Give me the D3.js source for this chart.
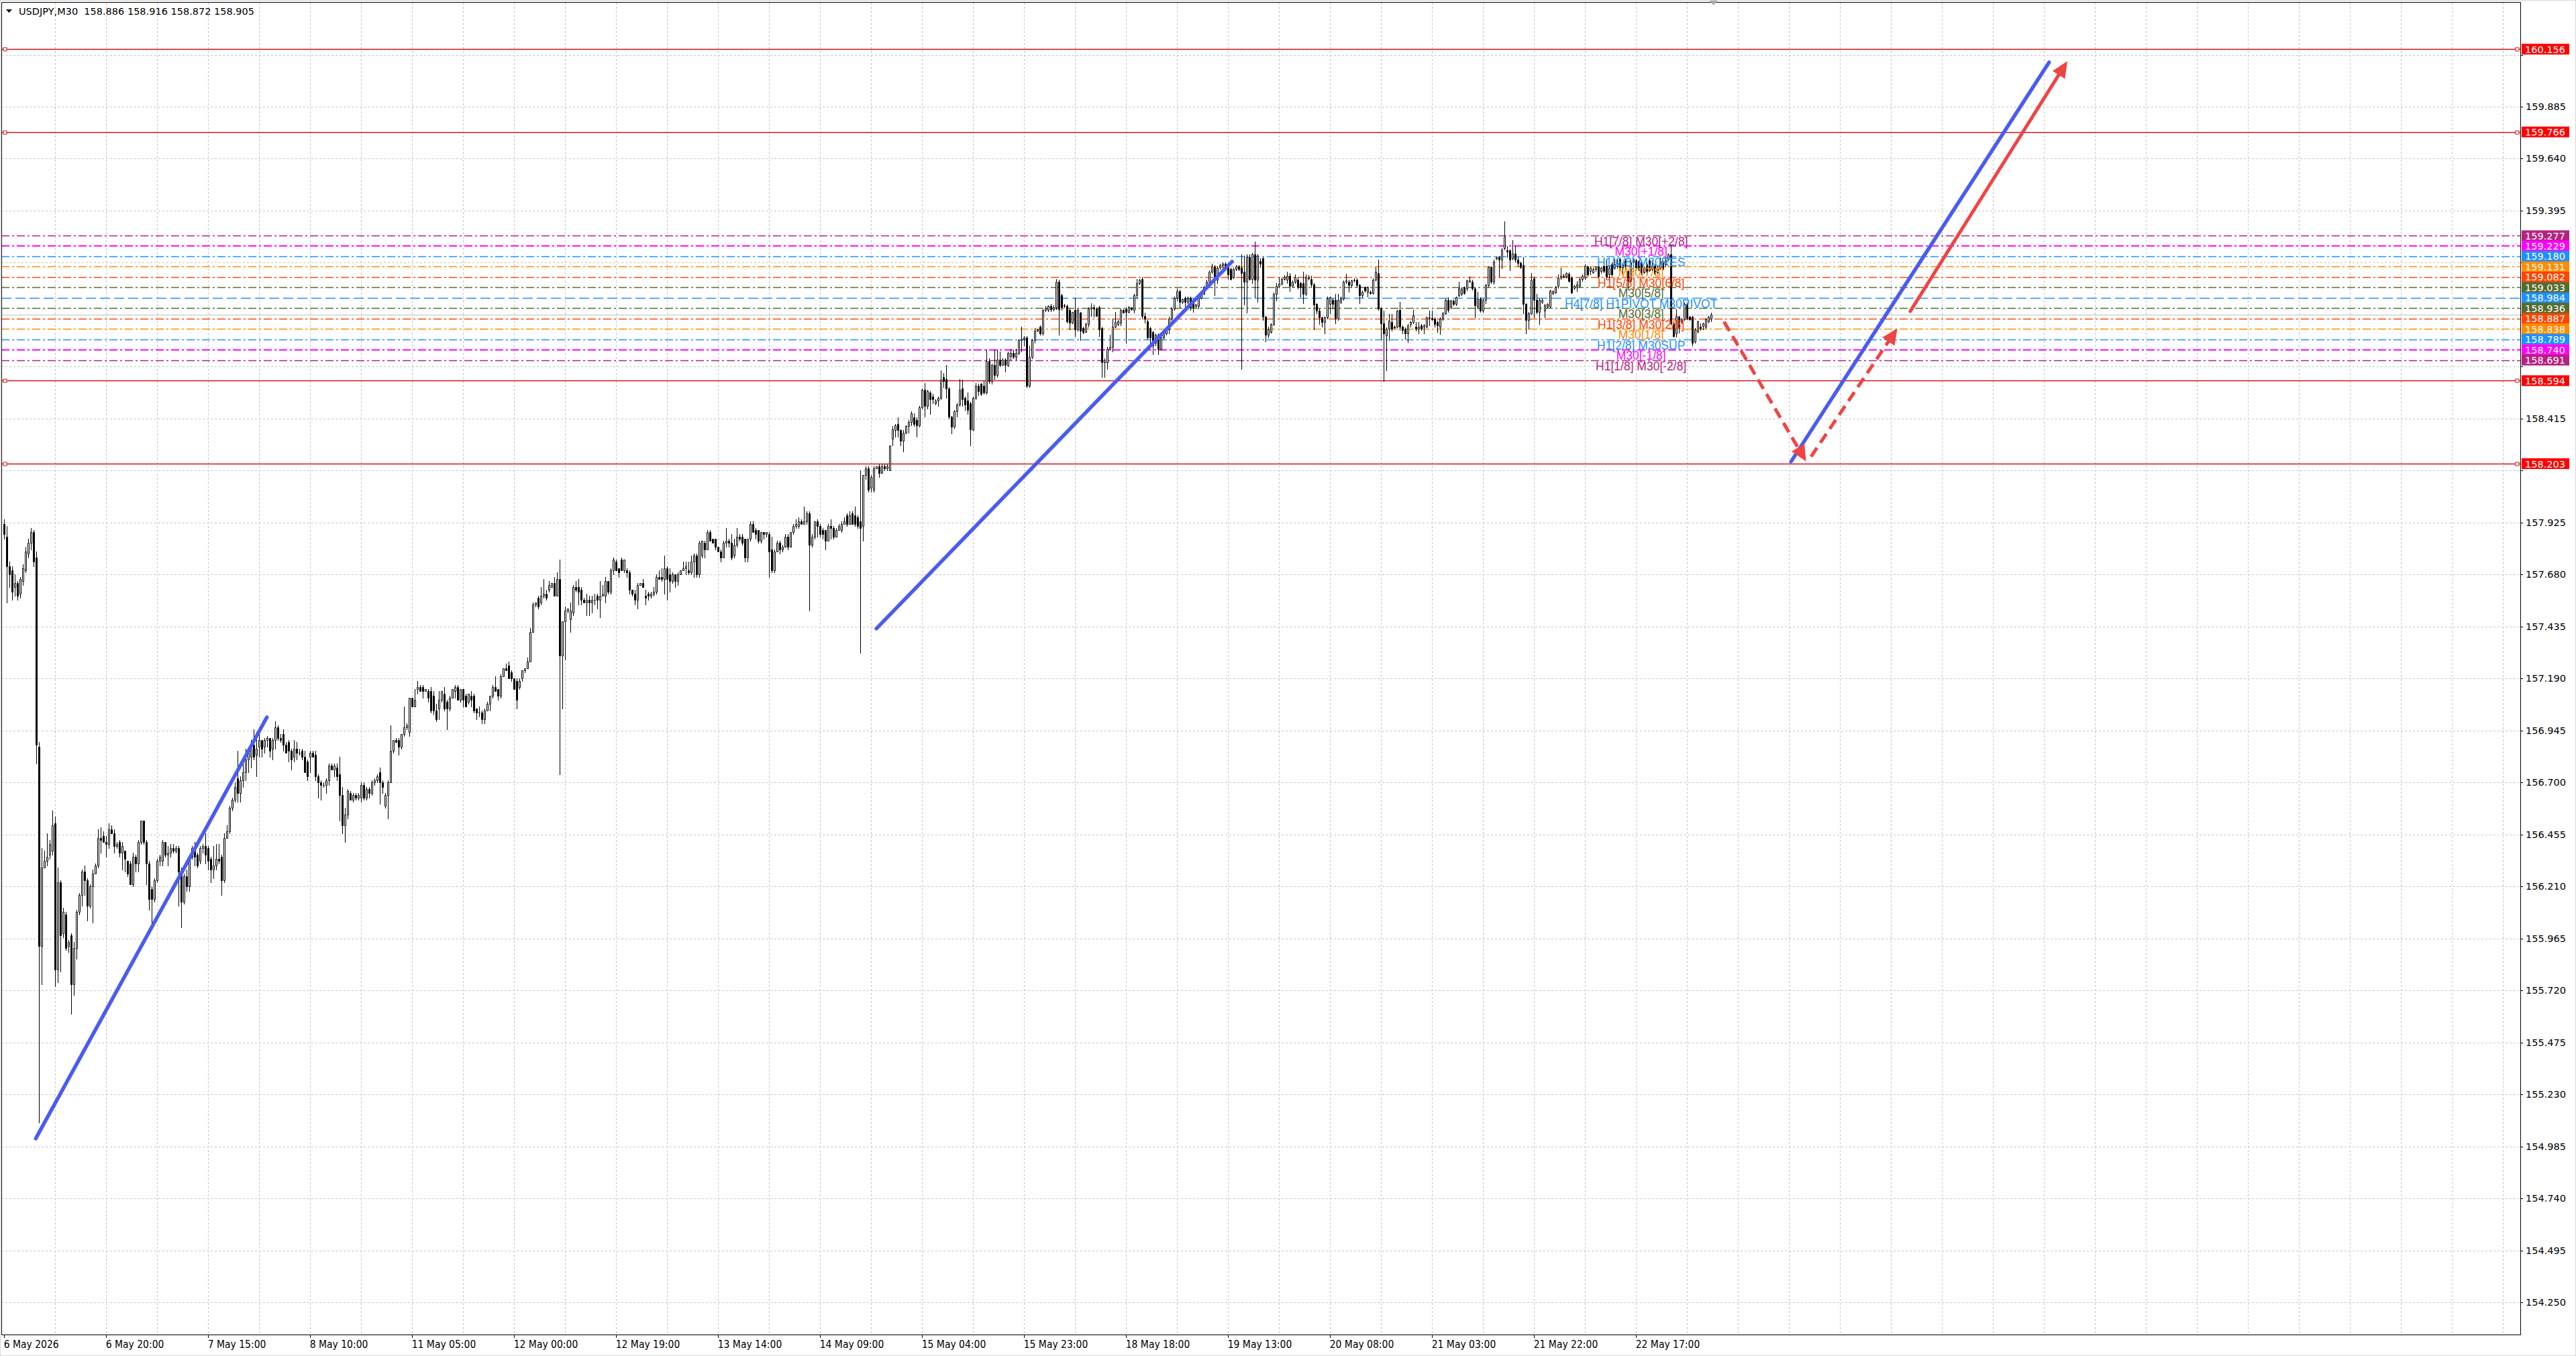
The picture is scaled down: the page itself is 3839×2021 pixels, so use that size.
<!DOCTYPE html>
<html>
<head>
<meta charset="utf-8">
<script src="https://cdn.jsdelivr.net/npm/d3@7"></script>
<style>
  body { margin: 0; background: #fff; overflow: hidden; }
</style>
</head>
<body>
<svg id="chart"></svg>
<script>
// USDJPY M30 - candles and drawn objects

var symbolTitle = 'USDJPY,M30';
var lastQuote = [158.886, 158.916, 158.872, 158.905];

// time axis labels, one every 38 bars
var timeLabels = ['6 May 2026', '6 May 20:00', '7 May 15:00', '8 May 10:00', '11 May 05:00', '12 May 00:00',
  '12 May 19:00', '13 May 14:00', '14 May 09:00', '15 May 04:00', '15 May 23:00', '18 May 18:00',
  '19 May 13:00', '20 May 08:00', '21 May 03:00', '21 May 22:00', '22 May 17:00'];

// price axis labels
var priceTicks = [160.130, 159.885, 159.640, 159.395, 159.150, 158.905, 158.660, 158.415, 158.170,
  157.925, 157.680, 157.435, 157.190, 156.945, 156.700, 156.455, 156.210, 155.965, 155.720,
  155.475, 155.230, 154.985, 154.740, 154.495, 154.250];

// horizontal support / resistance lines
var redLevels = [160.156, 159.766, 158.594, 158.203];

// murrey math levels and their names
var murreyLevels = [159.277, 159.229, 159.180, 159.131, 159.082, 159.033, 158.984, 158.936, 158.887, 158.838, 158.789, 158.740, 158.691];
var murreyNames = ['H1[7/8] M30[+2/8]', 'M30[+1/8]', 'H1[6/8] M30RES', 'M30[7/8]', 'H1[5/8] M30[6/8]', 'M30[5/8]',
  'H4[7/8] H1PIVOT M30PIVOT', 'M30[3/8]', 'H1[3/8] M30[2/8]', 'M30[1/8]', 'H1[2/8] M30SUP', 'M30[-1/8]', 'H1[1/8] M30[-2/8]'];

// candles [open, high, low, close]
// 6 May 01:00 .. 11 May 09:30
var bars1 = [
[157.92,157.94,157.85,157.87],[157.86,157.91,157.55,157.72],[157.72,157.74,157.62,157.68],[157.70,157.72,157.56,157.60],
[157.62,157.68,157.58,157.64],[157.64,157.65,157.56,157.58],[157.59,157.67,157.57,157.66],[157.65,157.73,157.63,157.71],
[157.70,157.81,157.69,157.79],[157.78,157.85,157.76,157.83],[157.83,157.90,157.80,157.88],[157.88,157.89,157.72,157.74],
[157.76,157.79,156.79,156.88],[156.87,156.89,155.10,155.93],[155.93,156.39,155.75,156.30],[156.30,156.38,156.30,156.33],
[156.33,156.46,156.31,156.35],[156.36,156.43,156.34,156.41],[156.38,156.57,156.36,156.50],[156.51,156.54,155.74,155.82],
[155.82,156.30,155.76,156.23],[156.23,156.24,155.81,155.98],[155.99,156.11,155.97,156.09],[156.08,156.09,155.91,155.92],
[155.93,155.96,155.90,155.95],[155.98,155.99,155.61,155.75],[155.75,155.95,155.70,155.92],[155.92,156.10,155.87,156.09],
[156.09,156.18,156.08,156.17],[156.17,156.29,156.12,156.28],[156.28,156.31,156.17,156.24],[156.24,156.25,156.05,156.12],
[156.12,156.22,156.11,156.21],[156.21,156.29,156.04,156.27],[156.27,156.32,156.27,156.31],[156.31,156.48,156.30,156.44],
[156.44,156.49,156.37,156.43],[156.45,156.47,156.42,156.42],[156.42,156.45,156.35,156.41],[156.41,156.51,156.39,156.48],
[156.48,156.50,156.46,156.46],[156.46,156.48,156.37,156.40],[156.40,156.42,156.39,156.41],[156.42,156.43,156.35,156.37],
[156.37,156.42,156.29,156.40],[156.38,156.38,156.28,156.34],[156.33,156.33,156.26,156.27],[156.32,156.33,156.22,156.22],
[156.22,156.37,156.21,156.35],[156.35,156.36,156.28,156.32],[156.32,156.43,156.28,156.42],[156.42,156.52,156.41,156.52],
[156.52,156.52,156.41,156.42],[156.42,156.43,156.22,156.32],[156.32,156.33,156.10,156.15],[156.20,156.21,156.04,156.15],
[156.15,156.25,156.14,156.24],[156.24,156.34,156.23,156.33],[156.33,156.36,156.31,156.35],[156.33,156.43,156.31,156.42],
[156.42,156.42,156.35,156.36],[156.36,156.40,156.31,156.37],[156.37,156.41,156.35,156.39],[156.39,156.41,156.37,156.38],
[156.38,156.40,156.37,156.39],[156.39,156.40,156.12,156.28],[156.28,156.30,156.02,156.14],[156.14,156.27,156.13,156.26],
[156.26,156.29,156.19,156.21],[156.21,156.36,156.19,156.35],[156.35,156.40,156.34,156.39],[156.39,156.42,156.31,156.35],
[156.36,156.37,156.30,156.31],[156.33,156.40,156.32,156.39],[156.39,156.41,156.37,156.40],[156.40,156.46,156.32,156.36],
[156.39,156.40,156.29,156.33],[156.34,156.35,156.23,156.29],[156.29,156.40,156.25,156.31],[156.31,156.41,156.29,156.34],
[156.34,156.41,156.32,156.33],[156.35,156.36,156.17,156.24],[156.24,156.46,156.23,156.44],[156.44,156.50,156.44,156.47],
[156.47,156.59,156.46,156.58],[156.58,156.63,156.57,156.62],[156.62,156.70,156.61,156.68],[156.72,156.85,156.61,156.65],
[156.65,156.73,156.61,156.71],[156.71,156.79,156.68,156.75],[156.75,156.86,156.71,156.81],[156.81,156.86,156.75,156.84],
[156.82,156.90,156.77,156.86],[156.88,156.95,156.81,156.82],[156.83,156.94,156.73,156.86],[156.87,156.96,156.82,156.90],
[156.90,156.90,156.82,156.86],[156.87,156.91,156.84,156.90],[156.90,156.92,156.87,156.91],[156.91,156.91,156.82,156.85],
[156.86,156.91,156.81,156.90],[156.90,156.99,156.86,156.96],[156.96,156.97,156.90,156.91],[156.91,156.93,156.89,156.90],
[156.93,156.95,156.85,156.88],[156.88,156.89,156.84,156.84],[156.89,156.90,156.80,156.85],[156.85,156.86,156.76,156.81],
[156.82,156.90,156.80,156.86],[156.86,156.89,156.81,156.84],[156.84,156.86,156.83,156.84],[156.85,156.86,156.81,156.82],
[156.82,156.85,156.75,156.75],[156.80,156.81,156.71,156.73],[156.82,156.85,156.75,156.84],[156.84,156.85,156.82,156.82],
[156.83,156.85,156.71,156.73],[156.73,156.74,156.63,156.70],[156.70,156.71,156.62,156.69],[156.69,156.70,156.68,156.69],
[156.69,156.72,156.65,156.71],[156.71,156.79,156.69,156.78],[156.78,156.79,156.76,156.76],[156.76,156.79,156.73,156.78],
[156.77,156.79,156.71,156.73],[156.74,156.82,156.52,156.64],[156.64,156.68,156.46,156.50],[156.50,156.58,156.42,156.55],
[156.55,156.67,156.53,156.66],[156.65,156.66,156.62,156.62],[156.62,156.65,156.61,156.64],[156.64,156.65,156.62,156.63],
[156.63,156.65,156.62,156.64],[156.63,156.70,156.61,156.69],[156.69,156.70,156.62,156.63],[156.63,156.68,156.62,156.67],
[156.67,156.68,156.63,156.65],[156.65,156.71,156.64,156.70],[156.70,156.72,156.69,156.71],[156.71,156.74,156.70,156.73],
[156.75,156.77,156.60,156.70],[156.70,156.71,156.65,156.68],[156.59,156.65,156.58,156.64],[156.64,156.71,156.53,156.70],
[156.70,156.97,156.70,156.85],[156.85,156.90,156.84,156.90],[156.90,156.91,156.89,156.89],[156.90,156.91,156.83,156.87],
[156.87,156.93,156.86,156.93],[156.93,157.06,156.92,156.96],[156.96,156.98,156.95,156.97],[156.94,157.10,156.92,157.10],
[157.10,157.10,157.06,157.06],[157.06,157.14,157.06,157.09],[157.14,157.18,157.12,157.15],[157.15,157.16,157.13,157.13],
[157.15,157.16,157.10,157.13],[157.13,157.14,157.13,157.14],[157.13,157.14,157.08,157.10],[157.13,157.15,157.03,157.04],
[157.11,157.13,157.02,157.04],[157.04,157.07,156.99,157.00],[157.05,157.13,157.00,157.09],[157.09,157.13,157.08,157.13]
];

// 11 May 10:00 .. 14 May 10:00
var bars2 = [
[157.12,157.15,157.04,157.05],[157.08,157.09,156.95,157.05],[157.05,157.11,157.04,157.10],[157.10,157.14,157.10,157.14],
[157.13,157.16,157.10,157.15],[157.15,157.16,157.09,157.09],[157.09,157.14,157.08,157.14],[157.14,157.14,157.06,157.09],
[157.11,157.12,157.06,157.06],[157.08,157.12,157.07,157.12],[157.11,157.13,157.06,157.09],[157.11,157.12,157.03,157.04],
[157.05,157.05,157.00,157.03],[157.03,157.06,157.01,157.03],[157.03,157.04,156.98,157.00],[157.00,157.05,156.98,157.04],
[157.04,157.08,157.04,157.07],[157.07,157.11,157.04,157.11],[157.11,157.16,157.10,157.15],[157.15,157.20,157.13,157.13],
[157.14,157.14,157.09,157.11],[157.11,157.21,157.10,157.20],[157.20,157.24,157.20,157.24],[157.24,157.26,157.23,157.23],
[157.25,157.27,157.19,157.19],[157.22,157.23,157.18,157.19],[157.19,157.19,157.14,157.14],[157.18,157.19,157.05,157.09],
[157.15,157.19,157.14,157.18],[157.19,157.23,157.18,157.23],[157.23,157.24,157.22,157.24],[157.24,157.29,157.24,157.27],
[157.27,157.43,157.27,157.41],[157.41,157.55,157.41,157.54],[157.54,157.55,157.53,157.55],[157.57,157.58,157.52,157.53],
[157.55,157.62,157.54,157.58],[157.58,157.66,157.57,157.59],[157.59,157.61,157.56,157.57],[157.61,157.65,157.60,157.63],
[157.62,157.64,157.62,157.64],[157.64,157.67,157.58,157.58],[157.58,157.69,157.58,157.66],[157.66,157.75,156.74,157.30],
[157.30,157.46,157.05,157.46],[157.46,157.53,157.28,157.51],[157.51,157.52,157.50,157.52],[157.47,157.55,157.41,157.51],
[157.50,157.63,157.49,157.62],[157.62,157.65,157.60,157.61],[157.62,157.66,157.54,157.60],[157.61,157.62,157.54,157.56],
[157.56,157.57,157.55,157.55],[157.55,157.59,157.49,157.56],[157.56,157.58,157.49,157.55],[157.55,157.58,157.50,157.56],
[157.56,157.59,157.54,157.56],[157.58,157.59,157.52,157.56],[157.56,157.65,157.48,157.58],[157.58,157.63,157.58,157.59],
[157.58,157.67,157.55,157.65],[157.65,157.65,157.59,157.60],[157.60,157.71,157.59,157.70],[157.70,157.76,157.68,157.75],
[157.74,157.75,157.70,157.70],[157.71,157.71,157.67,157.69],[157.75,157.76,157.70,157.70],[157.70,157.75,157.69,157.75],
[157.70,157.71,157.67,157.69],[157.69,157.70,157.59,157.61],[157.61,157.61,157.58,157.59],[157.59,157.61,157.54,157.56],
[157.56,157.64,157.52,157.63],[157.63,157.64,157.63,157.64],[157.64,157.66,157.62,157.62],[157.58,157.61,157.54,157.57],
[157.59,157.60,157.56,157.58],[157.58,157.60,157.57,157.59],[157.59,157.62,157.58,157.60],[157.60,157.68,157.59,157.67],
[157.67,157.70,157.66,157.66],[157.67,157.71,157.65,157.66],[157.66,157.77,157.59,157.71],[157.71,157.72,157.56,157.66],
[157.68,157.71,157.60,157.65],[157.65,157.69,157.64,157.68],[157.68,157.68,157.62,157.65],[157.65,157.69,157.63,157.68],
[157.68,157.70,157.68,157.70],[157.70,157.74,157.70,157.71],[157.71,157.74,157.68,157.72],[157.70,157.74,157.68,157.69],
[157.69,157.77,157.68,157.74],[157.74,157.78,157.67,157.77],[157.77,157.78,157.67,157.68],[157.68,157.84,157.67,157.83],
[157.77,157.84,157.76,157.84],[157.83,157.84,157.76,157.80],[157.80,157.89,157.80,157.88],[157.88,157.89,157.84,157.84],
[157.85,157.85,157.83,157.83],[157.85,157.85,157.80,157.81],[157.81,157.81,157.79,157.79],[157.79,157.80,157.74,157.76],
[157.76,157.84,157.76,157.83],[157.83,157.90,157.81,157.84],[157.84,157.85,157.81,157.83],[157.83,157.87,157.75,157.76],
[157.77,157.85,157.76,157.82],[157.82,157.90,157.81,157.86],[157.86,157.87,157.84,157.85],[157.86,157.87,157.82,157.83],
[157.85,157.85,157.74,157.76],[157.76,157.85,157.74,157.85],[157.85,157.93,157.84,157.92],[157.92,157.93,157.88,157.88],
[157.89,157.90,157.85,157.87],[157.89,157.89,157.83,157.84],[157.84,157.88,157.83,157.88],[157.88,157.88,157.85,157.87],
[157.87,157.88,157.86,157.88],[157.87,157.88,157.67,157.79],[157.80,157.86,157.69,157.70],[157.70,157.80,157.69,157.79],
[157.79,157.84,157.79,157.83],[157.83,157.84,157.78,157.80],[157.80,157.82,157.79,157.81],[157.81,157.87,157.81,157.86],
[157.86,157.87,157.80,157.81],[157.81,157.88,157.81,157.88],[157.88,157.92,157.87,157.91],[157.91,157.94,157.90,157.92],
[157.91,157.95,157.90,157.93],[157.93,157.94,157.92,157.92],[157.92,158.00,157.92,157.93],[157.93,157.98,157.92,157.97],
[157.97,157.98,157.51,157.82],[157.82,157.87,157.81,157.86],[157.86,157.93,157.85,157.93],[157.93,157.94,157.86,157.91],
[157.91,157.92,157.86,157.87],[157.89,157.90,157.85,157.87],[157.89,157.89,157.80,157.84],[157.84,157.92,157.84,157.91],
[157.91,157.94,157.85,157.90],[157.90,157.91,157.85,157.86],[157.86,157.90,157.86,157.89],[157.89,157.92,157.89,157.91],
[157.89,157.93,157.88,157.92],[157.92,157.95,157.92,157.93],[157.96,157.97,157.91,157.92],[157.92,157.98,157.92,157.96],
[157.97,157.98,157.92,157.92],[157.96,158.00,157.91,157.92],[157.95,157.96,157.90,157.91],[157.93,158.17,157.31,157.90],
[157.91,158.15,157.84,158.15],[158.15,158.19,158.13,158.18],[158.18,158.19,158.07,158.08],[158.09,158.15,158.07,158.14],
[158.08,158.19,158.07,158.18],[158.18,158.19,158.18,158.19],[158.19,158.20,158.14,158.16],[158.16,158.20,158.16,158.19],
[158.19,158.20,158.17,158.18]
];

// 14 May 10:30 .. 19 May 12:30
var bars3 = [
[158.18,158.20,158.17,158.19],[158.17,158.29,158.17,158.29],[158.32,158.38,158.29,158.365],[158.36,158.39,158.33,158.384],
[158.39,158.42,158.33,158.36],[158.36,158.365,158.29,158.31],[158.31,158.36,158.26,158.35],[158.35,158.384,158.345,158.38],
[158.38,158.41,158.35,158.40],[158.40,158.45,158.384,158.44],[158.42,158.44,158.38,158.39],[158.41,158.42,158.33,158.384],
[158.384,158.474,158.378,158.468],[158.468,158.558,158.461,158.552],[158.552,158.584,158.423,158.474],[158.474,158.552,158.461,158.545],
[158.539,158.545,158.436,158.507],[158.52,158.532,158.487,158.507],[158.487,158.507,158.481,158.50],[158.50,158.52,158.474,158.513],
[158.513,158.642,158.507,158.597],[158.61,158.629,158.565,158.591],[158.603,158.668,158.513,158.558],[158.558,158.565,158.416,158.423],
[158.423,158.429,158.345,158.378],[158.378,158.455,158.371,158.449],[158.449,158.487,158.423,158.481],[158.481,158.603,158.474,158.552],
[158.558,158.597,158.474,158.507],[158.513,158.52,158.455,158.481],[158.50,158.539,158.436,158.455],[158.487,158.494,158.287,158.365],
[158.365,158.52,158.358,158.513],[158.513,158.584,158.507,158.571],[158.571,158.578,158.526,158.545],[158.578,158.584,158.526,158.532],
[158.571,158.591,158.532,158.539],[158.539,158.739,158.532,158.687],[158.687,158.70,158.584,158.591],[158.591,158.674,158.578,158.668],
[158.668,158.739,158.60,158.62],[158.62,158.739,158.61,158.694],[158.694,158.732,158.661,158.668],[158.668,158.70,158.668,158.694],
[158.694,158.70,158.636,158.668],[158.668,158.732,158.661,158.726],[158.71,158.745,158.694,158.726],[158.726,158.739,158.70,158.707],
[158.707,158.745,158.694,158.726],[158.726,158.79,158.719,158.784],[158.784,158.849,158.732,158.79],[158.79,158.803,158.758,158.797],
[158.797,158.803,158.565,158.571],[158.571,158.758,158.565,158.707],[158.707,158.79,158.70,158.784],[158.784,158.842,158.771,158.829],
[158.829,158.84,158.825,158.836],[158.849,158.855,158.81,158.816],[158.816,158.93,158.81,158.926],[158.926,158.945,158.92,158.935],
[158.926,158.95,158.92,158.945],[158.945,158.955,158.92,158.93],[158.93,158.95,158.925,158.94],[158.94,159.074,158.93,159.06],
[159.06,159.07,158.81,158.93],[158.997,159.003,158.926,158.939],[158.945,158.955,158.94,158.95],[158.945,158.952,158.868,158.874],
[158.926,158.932,158.836,158.868],[158.868,158.919,158.865,158.919],[158.926,158.984,158.803,158.836],[158.836,158.932,158.829,158.926],
[158.913,158.919,158.784,158.829],[158.842,158.849,158.816,158.823],[158.823,158.868,158.823,158.861],[158.861,158.939,158.849,158.932],
[158.932,158.958,158.90,158.939],[158.939,158.952,158.894,158.932],[158.932,158.94,158.90,158.90],[158.939,158.945,158.803,158.836],
[158.842,158.849,158.61,158.681],[158.681,158.70,158.61,158.69],[158.681,158.752,158.649,158.745],[158.745,158.81,158.739,158.752],
[158.752,158.887,158.732,158.849],[158.849,158.919,158.845,158.87],[158.861,158.88,158.855,158.874],[158.868,158.932,158.855,158.926],
[158.926,158.93,158.913,158.915],[158.932,158.939,158.771,158.919],[158.919,158.945,158.913,158.939],[158.939,158.94,158.926,158.93],
[158.926,159.003,158.913,158.997],[158.997,159.074,158.984,159.055],[159.055,159.074,159.048,159.068],[159.074,159.081,158.887,158.90],
[158.90,158.913,158.868,158.887],[158.874,158.881,158.79,158.797],[158.842,158.849,158.771,158.797],[158.823,158.829,158.719,158.758],
[158.771,158.816,158.758,158.81],[158.81,158.816,158.719,158.745],[158.745,158.803,158.739,158.797],[158.797,158.82,158.79,158.816],
[158.816,158.845,158.81,158.842],[158.836,158.894,158.816,158.887],[158.887,158.939,158.881,158.932],[158.932,158.99,158.926,158.984],
[158.984,159.029,158.971,159.016],[159.016,159.023,158.939,158.965],[158.965,158.98,158.96,158.977],[158.984,158.99,158.926,158.965],
[158.965,158.99,158.96,158.984],[158.984,158.99,158.926,158.939],[158.958,158.965,158.919,158.939],[158.945,158.955,158.94,158.952],
[158.945,158.99,158.932,158.984],[158.984,159.01,158.98,159.003],[159.003,159.04,159.00,159.036],[159.036,159.068,159.029,159.061],
[159.061,159.113,159.055,159.107],[159.107,159.145,159.10,159.132],[159.132,159.139,158.997,159.068],[159.068,159.132,159.055,159.126],
[159.126,159.145,159.12,159.139],[159.139,159.152,159.126,159.145],[159.145,159.15,159.13,159.132],[159.132,159.139,159.074,159.094],
[159.119,159.126,159.068,159.074],[159.081,159.125,159.075,159.119],[159.119,159.14,159.115,159.132],[159.132,159.14,159.115,159.119],
[159.126,159.19,158.649,159.10],[159.107,159.184,158.952,159.061],[159.061,159.19,158.913,159.178],[159.178,159.19,159.07,159.074],
[159.074,159.197,159.055,159.19],[159.19,159.248,158.984,159.068],[159.068,159.19,158.965,159.184],[159.158,159.17,159.13,159.145],
[159.171,159.178,158.881,158.894],[158.894,158.90,158.778,158.81],[158.81,158.849,158.797,158.836],[158.823,158.865,158.82,158.861],
[158.861,159.01,158.855,159.003],[159.003,159.055,158.971,159.042],[159.042,159.081,159.036,159.05],[159.05,159.08,159.048,159.074],
[159.074,159.09,159.07,159.081],[159.068,159.107,159.055,159.087],[159.087,159.10,159.016,159.042],[159.042,159.065,159.035,159.061],
[159.061,159.094,159.055,159.081],[159.068,159.081,159.029,159.036],[159.055,159.061,158.99,159.036],[159.055,159.107,158.958,159.003],
[159.003,159.094,158.997,159.081],[159.075,159.09,159.07,159.081],[159.074,159.087,159.036,159.048],[159.048,159.055,158.836,158.952]
];

// 19 May 13:00 .. end
var bars4 = [
[158.954,158.960,158.912,158.923],[158.923,158.933,158.860,158.891],[158.891,158.896,158.849,158.870],[158.870,158.896,158.817,158.891],
[158.891,158.991,158.886,158.981],[158.954,158.991,158.912,158.986],[158.976,158.981,158.933,158.954],[158.976,159.002,158.865,158.886],
[158.886,159.002,158.881,158.976],[158.965,158.991,158.960,158.981],[158.981,159.065,158.976,159.060],[159.060,159.097,159.055,159.065],
[159.060,159.070,159.012,159.044],[159.044,159.070,159.039,159.065],[159.065,159.076,159.060,159.070],[159.068,159.076,159.033,159.044],
[159.044,159.049,158.960,158.997],[158.997,159.018,158.986,159.012],[159.033,159.039,159.012,159.018],[159.012,159.039,158.991,159.033],
[159.012,159.020,159.002,159.007],[159.007,159.076,159.002,159.070],[159.070,159.128,159.065,159.107],[159.102,159.165,158.928,158.933],
[158.933,158.939,158.791,158.865],[158.865,158.923,158.591,158.817],[158.807,158.844,158.644,158.838],[158.838,158.907,158.786,158.875],
[158.870,158.907,158.828,158.838],[158.849,158.855,158.840,158.844],[158.849,158.928,158.844,158.923],[158.928,158.965,158.833,158.849],
[158.849,158.854,158.817,158.833],[158.838,158.844,158.791,158.817],[158.817,158.860,158.775,158.854],[158.860,158.875,158.849,158.870],
[158.870,158.928,158.865,158.902],[158.849,158.870,158.828,158.838],[158.838,158.870,158.817,158.849],[158.854,158.860,158.833,158.838],
[158.849,158.860,158.817,158.854],[158.849,158.896,158.844,158.891],[158.889,158.923,158.854,158.891],[158.889,158.923,158.881,158.883],
[158.886,158.891,158.849,158.860],[158.870,158.875,158.823,158.854],[158.849,158.891,158.812,158.886],[158.886,158.918,158.881,158.912],
[158.912,158.981,158.907,158.976],[158.976,158.986,158.918,158.928],[158.939,158.976,158.933,158.970],[158.970,158.976,158.949,158.954],
[158.954,158.991,158.949,158.986],[158.997,159.060,158.991,159.028],[159.002,159.033,158.997,159.028],[159.033,159.039,159.002,159.007],
[159.028,159.070,159.018,159.065],[159.060,159.086,159.060,159.065],[159.060,159.070,159.023,159.028],[159.028,159.033,158.891,158.949],
[158.944,159.012,158.933,158.981],[158.981,158.986,158.918,158.923],[158.923,158.981,158.918,158.976],[158.976,159.049,158.960,159.044],
[159.044,159.134,159.039,159.128],[159.128,159.134,159.055,159.060],[159.060,159.165,159.049,159.155],[159.170,159.181,159.165,159.176],
[159.176,159.181,159.086,159.165],[159.165,159.218,159.123,159.213],[159.218,159.344,159.213,159.271],[159.207,159.228,159.176,159.202],
[159.207,159.213,159.113,159.165],[159.170,159.255,159.165,159.192],[159.192,159.228,159.155,159.165],[159.165,159.176,159.134,159.149],
[159.149,159.155,159.123,159.128],[159.139,159.176,158.912,158.954],[158.954,158.960,158.817,158.881],[158.881,158.918,158.838,158.912],
[158.912,159.102,158.907,159.070],[159.076,159.086,158.891,158.976],[158.976,159.002,158.912,158.918],[158.918,158.981,158.860,158.976],
[158.965,158.981,158.960,158.976],[158.923,158.954,158.891,158.949],[158.944,158.960,158.939,158.954],[158.944,159.023,158.939,159.018],
[159.005,159.020,159.000,159.015],[159.010,159.040,159.005,159.036],[159.041,159.094,159.031,159.078],[159.078,159.126,159.073,159.089],
[159.089,159.099,159.080,159.084],[159.084,159.105,159.080,159.100],[159.099,159.105,159.060,159.063],[159.078,159.084,159.005,159.010],
[159.031,159.045,159.025,159.041],[159.041,159.063,159.015,159.047],[159.041,159.078,159.036,159.073],[159.073,159.094,159.063,159.089],
[159.078,159.141,159.073,159.136],[159.131,159.136,159.089,159.094],[159.110,159.131,159.094,159.126],[159.105,159.125,159.100,159.120],
[159.120,159.131,159.110,159.131],[159.131,159.136,159.078,159.084],[159.110,159.130,159.100,159.126],[159.136,159.147,159.105,159.110],
[159.136,159.168,159.073,159.084],[159.094,159.136,159.063,159.126],[159.141,159.152,159.089,159.094],[159.126,159.168,159.120,159.141],
[159.131,159.168,159.126,159.147],[159.168,159.173,159.115,159.120],[159.126,159.152,159.094,159.141],[159.157,159.168,159.115,159.136],
[159.110,159.115,159.026,159.063],[159.063,159.160,159.060,159.152],[159.152,159.173,159.110,159.168],[159.162,159.168,159.115,159.126],
[159.157,159.160,159.115,159.120],[159.152,159.162,159.094,159.105],[159.105,159.130,159.100,159.126],[159.141,159.152,159.099,159.110],
[159.162,159.168,159.110,159.115],[159.120,159.162,159.115,159.136],[159.136,159.141,159.094,159.099],[159.105,159.136,159.099,159.126],
[159.126,159.173,159.120,159.157],[159.152,159.160,159.118,159.120],[159.141,159.178,159.131,159.162],[159.168,159.194,159.162,159.189],
[159.189,159.231,158.857,158.863],[158.863,158.873,158.800,158.805],[158.815,158.931,158.800,158.899],[158.894,158.899,158.821,158.842],
[158.873,158.890,158.865,158.884],[158.884,158.963,158.880,158.952],[158.957,158.963,158.884,158.889],[158.894,158.900,158.880,158.884],
[158.894,158.899,158.758,158.773],[158.779,158.842,158.773,158.836],[158.826,158.878,158.820,158.873],[158.847,158.863,158.831,158.842],
[158.852,158.868,158.836,158.863],[158.847,158.889,158.842,158.884],[158.873,158.899,158.868,158.894],
[158.886,158.916,158.872,158.905]
];

// trend lines (blue) as [bar, price] pairs
var blueLines = [
  [[11.9, 155.023], [98.0, 157.008]],
  [[325.1, 157.426], [457.6, 159.155]],
  [[665.9, 158.213], [762.0, 160.094]]
];

// forecast arrows (red) as [bar, price] pairs
var redArrows = [
  {from: [640.9, 158.872], to: [671.5, 158.213], dashed: true},
  {from: [673.3, 158.236], to: [705.5, 158.841], dashed: true},
  {from: [710.3, 158.921], to: [768.8, 160.099], dashed: false}
];

var bars = [].concat(bars1, bars2, bars3, bars4);

var W = 3839, H = 2021;
var plot = {left: 2, top: 4, right: 3756, bottom: 1989};

var x = d3.scaleLinear().domain([0, 636]).range([5.7, 2549.7]);
var y = d3.scaleLinear().domain([159.885, 154.25]).range([159, 1941.4]);

var svg = d3.select('#chart').attr('width', W).attr('height', H);
svg.append('rect').attr('width', W).attr('height', H).attr('fill', '#fff');

svg.append('defs').append('clipPath').attr('id', 'plotClip')
  .append('rect')
  .attr('x', plot.left).attr('y', plot.top)
  .attr('width', plot.right - plot.left).attr('height', plot.bottom - plot.top);

var plotG = svg.append('g').attr('clip-path', 'url(#plotClip)');

function px(v) { return Math.round(v) + 0.5; }

// grid
var gridBars = d3.range(19, 960, 19);
plotG.append('g').selectAll('line').data(gridBars).join('line')
  .attr('x1', function(d) { return px(x(d)); })
  .attr('x2', function(d) { return px(x(d)); })
  .attr('y1', plot.top).attr('y2', plot.bottom)
  .attr('stroke', '#c4c4c4').attr('stroke-width', 1).attr('stroke-dasharray', '3,3');

plotG.append('g').selectAll('line').data(priceTicks).join('line')
  .attr('x1', plot.left).attr('x2', plot.right)
  .attr('y1', function(d) { return px(y(d)); })
  .attr('y2', function(d) { return px(y(d)); })
  .attr('stroke', '#c4c4c4').attr('stroke-width', 1).attr('stroke-dasharray', '3,3');

// murrey lines
var murreyColors = ['#b4237f', '#ff00ff', '#1e90ff', '#ff8c00', '#ff4500', '#556b2f', '#1e90ff',
  '#556b2f', '#ff4500', '#ff8c00', '#1e90ff', '#ff00ff', '#b4237f'];

plotG.append('g').selectAll('line').data(murreyLevels).join('line')
  .attr('x1', plot.left).attr('x2', plot.right)
  .attr('y1', function(d) { return px(y(d)); })
  .attr('y2', function(d) { return px(y(d)); })
  .attr('stroke', function(d, i) { return murreyColors[i]; })
  .attr('stroke-width', function(d, i) { return (i == 1 || i == 11) ? 2 : 1.3; })
  .attr('stroke-dasharray', function(d, i) { return i == 6 ? '15,6' : '12,4,3,4'; });

// red levels
plotG.append('g').selectAll('line').data(redLevels).join('line')
  .attr('x1', plot.left).attr('x2', plot.right)
  .attr('y1', function(d) { return px(y(d)); })
  .attr('y2', function(d) { return px(y(d)); })
  .attr('stroke', '#cc1818').attr('stroke-width', 1.4);

plotG.append('g').selectAll('rect').data(redLevels.concat(redLevels)).join('rect')
  .attr('x', function(d, i) { return i < redLevels.length ? 5 : plot.right - 7; })
  .attr('y', function(d) { return px(y(d)) - 2.5; })
  .attr('width', 5).attr('height', 5)
  .attr('fill', '#fff').attr('stroke', '#cc1818').attr('stroke-width', 1);

// bid line
var lastClose = bars[bars.length - 1][3];
plotG.append('line')
  .attr('x1', plot.left).attr('x2', plot.right)
  .attr('y1', px(y(lastClose))).attr('y2', px(y(lastClose)))
  .attr('stroke', '#c0c0c0').attr('stroke-width', 1);

// candles
var candles = plotG.append('g').selectAll('g').data(bars).join('g');

candles.append('line')
  .attr('x1', function(d, i) { return px(x(i)); })
  .attr('x2', function(d, i) { return px(x(i)); })
  .attr('y1', function(d) { return Math.round(y(d[1])); })
  .attr('y2', function(d) { return Math.round(y(d[2])) + 1; })
  .attr('stroke', '#000').attr('stroke-width', 1);

candles.append('path')
  .attr('d', function(d, i) {
    var cx = Math.round(x(i));
    var top = px(y(Math.max(d[0], d[3])));
    var bot = px(y(Math.min(d[0], d[3])));
    return 'M' + (cx - 0.5) + ',' + top + 'H' + (cx + 1.5) + 'V' + bot + 'H' + (cx - 0.5) + 'Z';
  })
  .attr('fill', function(d) { return d[3] >= d[0] ? '#fff' : '#000'; })
  .attr('stroke', '#000').attr('stroke-width', 1);

// murrey names in the chart
var labelBar = 610;
plotG.append('g').selectAll('text').data(murreyNames).join('text')
  .attr('x', x(labelBar))
  .attr('y', function(d, i) { return y(murreyLevels[i]) + 15; })
  .attr('text-anchor', 'middle')
  .attr('font-family', 'Liberation Sans, Arial, sans-serif')
  .attr('font-size', '17.5px')
  .attr('fill', function(d, i) { return murreyColors[i]; })
  .text(function(d) { return d; });

// blue trend lines
plotG.append('g').selectAll('line').data(blueLines).join('line')
  .attr('x1', function(d) { return x(d[0][0]); })
  .attr('y1', function(d) { return y(d[0][1]); })
  .attr('x2', function(d) { return x(d[1][0]); })
  .attr('y2', function(d) { return y(d[1][1]); })
  .attr('stroke', '#4a5cf0').attr('stroke-width', 5.5).attr('stroke-linecap', 'round');

// red arrows
var headLen = 24, headHalf = 11;
redArrows.forEach(function(a) {
  var x1 = x(a.from[0]), y1 = y(a.from[1]);
  var x2 = x(a.to[0]), y2 = y(a.to[1]);
  var dx = x2 - x1, dy = y2 - y1;
  var len = Math.sqrt(dx * dx + dy * dy);
  var ux = dx / len, uy = dy / len;
  var bx = x2 - ux * headLen, by = y2 - uy * headLen;
  plotG.append('line')
    .attr('x1', x1).attr('y1', y1).attr('x2', bx + ux * 2).attr('y2', by + uy * 2)
    .attr('stroke', '#ef4444').attr('stroke-width', 5)
    .attr('stroke-linecap', a.dashed ? 'butt' : 'round')
    .attr('stroke-dasharray', a.dashed ? '16,9' : null);
  plotG.append('path')
    .attr('d', 'M' + x2 + ',' + y2 +
      'L' + (bx - uy * headHalf) + ',' + (by + ux * headHalf) +
      'L' + (bx + uy * headHalf) + ',' + (by - ux * headHalf) + 'Z')
    .attr('fill', '#ef4444');
});

// frame
svg.append('rect')
  .attr('x', 0.5).attr('y', 0.5).attr('width', W - 1).attr('height', H - 1)
  .attr('fill', 'none').attr('stroke', '#d8d8d8');
svg.append('path')
  .attr('d', 'M' + (plot.left + 0.5) + ',' + (plot.bottom + 0.5) + 'V' + (plot.top - 0.5) +
    'H' + (plot.right + 0.5) + 'V' + (plot.bottom + 0.5) + 'H' + (plot.left + 0.5))
  .attr('fill', 'none').attr('stroke', '#000').attr('stroke-width', 1);

// chart shift marker
var shiftX = x(637);
svg.append('path')
  .attr('d', 'M' + (shiftX - 6) + ',' + (plot.top - 3) + 'H' + (shiftX + 6) + 'L' + shiftX + ',' + (plot.top + 4) + 'Z')
  .attr('fill', '#a8a8a8');

// price axis (labels sitting under a level box are left out, the box covers them)
var axisFont = 'DejaVu Sans, Verdana, sans-serif';
var boxLevels = redLevels.concat(murreyLevels);
var visibleTicks = priceTicks.filter(function(t) {
  return boxLevels.every(function(l) { return Math.abs(y(t) - y(l)) > 16; });
});

svg.append('g').selectAll('line').data(priceTicks).join('line')
  .attr('x1', plot.right).attr('x2', plot.right + 4)
  .attr('y1', function(d) { return px(y(d)); })
  .attr('y2', function(d) { return px(y(d)); })
  .attr('stroke', '#000');
svg.append('g').selectAll('text').data(visibleTicks).join('text')
  .attr('x', 3764).attr('y', function(d) { return y(d) + 5; })
  .attr('font-family', axisFont).attr('font-size', '14.5px').attr('fill', '#000')
  .text(function(d) { return d.toFixed(3); });

// level price boxes
function priceBox(level, color) {
  var cy = y(level);
  svg.append('rect')
    .attr('x', 3758).attr('y', cy - 8).attr('width', 71).attr('height', 16)
    .attr('fill', color);
  svg.append('text')
    .attr('x', 3763).attr('y', cy + 5.5)
    .attr('font-family', axisFont).attr('font-size', '14.5px').attr('fill', '#fff')
    .text(level.toFixed(3));
}
redLevels.forEach(function(l) { priceBox(l, '#ff0000'); });
murreyLevels.forEach(function(l, i) { priceBox(l, murreyColors[i]); });

// time axis
var timeG = svg.append('g');
timeG.selectAll('line').data(timeLabels).join('line')
  .attr('x1', function(d, i) { return px(x(i * 38)); })
  .attr('x2', function(d, i) { return px(x(i * 38)); })
  .attr('y1', plot.bottom).attr('y2', plot.bottom + 5)
  .attr('stroke', '#000');
timeG.selectAll('text').data(timeLabels).join('text')
  .attr('x', function(d, i) { return x(i * 38); })
  .attr('y', 2009)
  .attr('font-family', 'DejaVu Sans Condensed, DejaVu Sans, sans-serif')
  .style('font-stretch', 'condensed')
  .attr('font-size', '15.5px').attr('fill', '#000')
  .text(function(d) { return d; });

// title
svg.append('path').attr('d', 'M9,14H18L13.5,19Z').attr('fill', '#000');
svg.append('text')
  .attr('x', 28).attr('y', 22)
  .attr('font-family', axisFont).attr('font-size', '14.5px').attr('fill', '#000')
  .style('white-space', 'pre')
  .text(symbolTitle + '  ' + lastQuote.map(function(v) { return v.toFixed(3); }).join(' '));
</script>
</body>
</html>
